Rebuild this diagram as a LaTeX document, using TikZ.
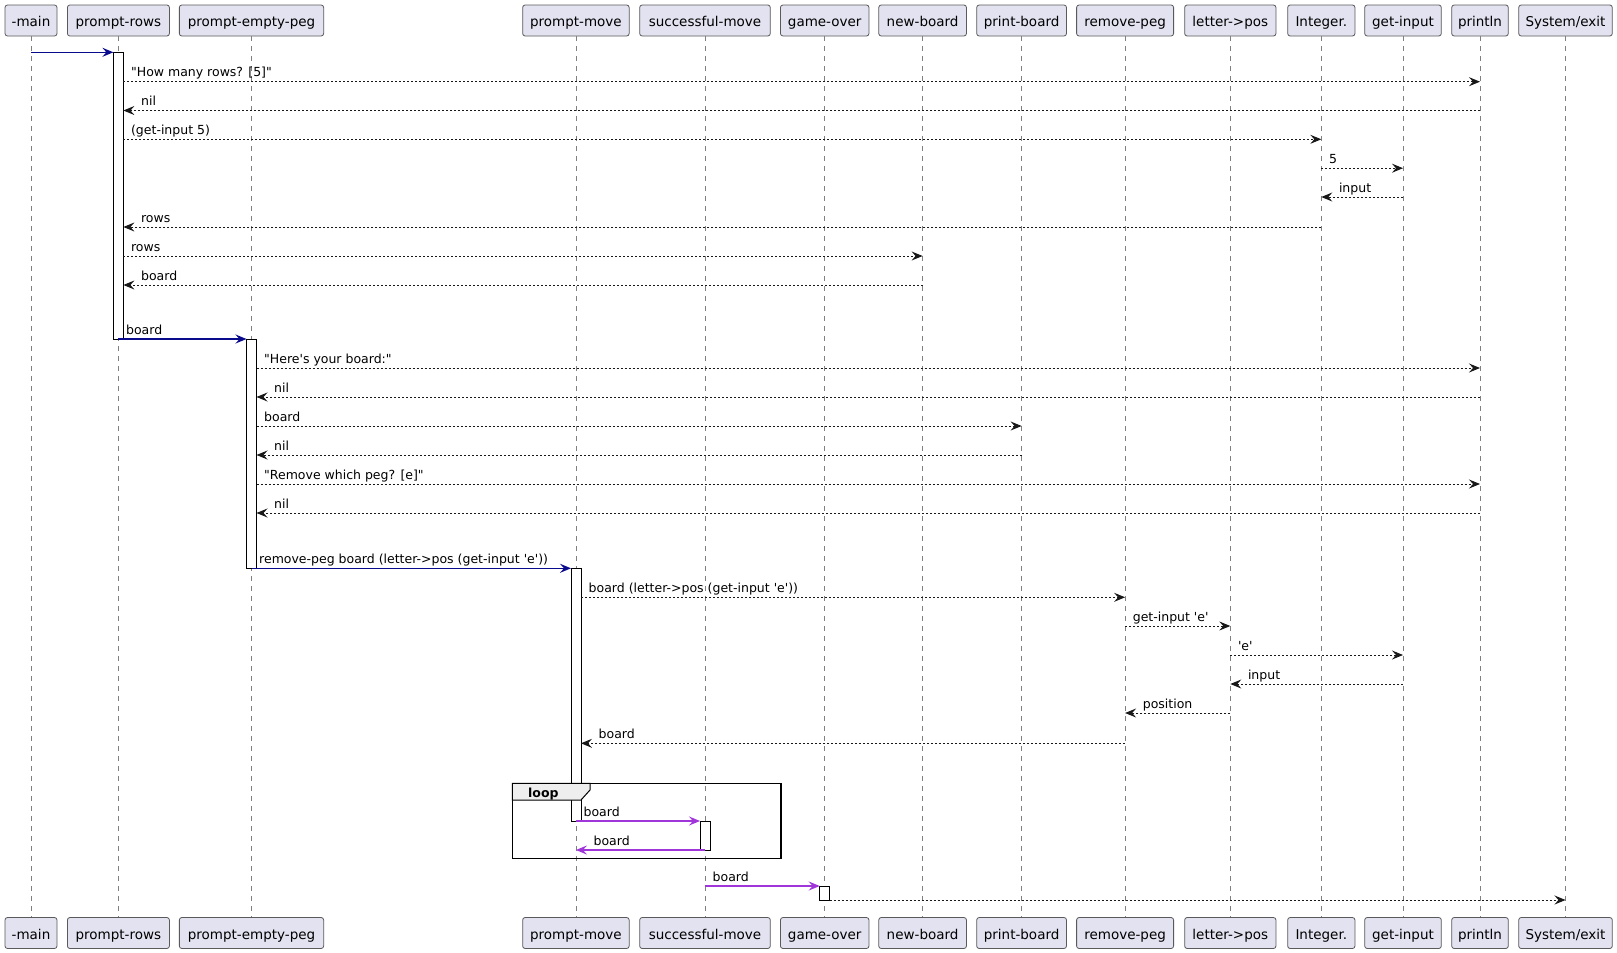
\documentclass[tikz,border=0pt]{standalone}
\usepackage{fontspec}
\newfontfamily\pfont{DejaVu Sans}
\usetikzlibrary{arrows.meta}
\definecolor{pfill}{HTML}{E2E2F0}
\definecolor{pline}{HTML}{5A5A5A}
\definecolor{dark}{HTML}{181818}
\definecolor{navyc}{HTML}{0A0A8C}
\definecolor{purp}{HTML}{A035DA}
\definecolor{tabfill}{HTML}{EEEEEE}
\tikzset{
 part/.style={draw=pline, fill=pfill, line width=0.8pt, rounded corners=2.5pt, inner sep=0pt,
   minimum height=31pt, text height=12pt, text depth=0pt, font=\pfont\fontsize{13.5}{16}\selectfont, text=black},
 life/.style={draw=gray, line width=0.7pt, dash pattern=on 5pt off 5pt},
 actbar/.style={draw=black, fill=white, line width=1pt},
 tipped/.style={-{Stealth[length=11pt,width=9pt,inset=4pt]}},
 dotmsg/.style={tipped, draw=dark, line width=1pt, dash pattern=on 2pt off 2pt},
 navymsg/.style={tipped, draw=navyc, line width=1.5pt},
 purpmsg/.style={tipped, draw=purp, line width=1.5pt},
 lbl/.style={anchor=base west, inner sep=0pt, font=\pfont\fontsize{12.5}{15}\selectfont, text=black},
 framebox/.style={draw=black, line width=1.5pt},
 looptab/.style={draw=black, line width=1pt, fill=tabfill},
}
% participant: name, center x, width, text
\newcommand\participant[4]{%
  \node[part, minimum width=#3pt] (#1T) at (#2,20.5) {#4};
  \node[part, minimum width=#3pt] (#1B) at (#2,933) {#4};
  \draw[life] (#1T.south) -- (#1B.north);
}
% message to the right: style, name, x1, x2, y, label
\newcommand\msgR[6]{%
  \coordinate (#2s) at (#3,#5);
  \coordinate (#2e) at (#4,#5);
  \draw[#1] (#2s) -- (#2e);
  \path (#2s) ++(7.5,-5) node[lbl] (#2l) {#6};
}
% message to the left (tip at x2 < x1)
\newcommand\msgL[6]{%
  \coordinate (#2s) at (#3,#5);
  \coordinate (#2e) at (#4,#5);
  \draw[#1] (#2s) -- (#2e);
  \path (#2e) ++(17.5,-5) node[lbl] (#2l) {#6};
}
\begin{document}
\begin{tikzpicture}[x=1pt,y=-1pt]
\useasboundingbox (0,0) rectangle (1617,953);
\fill[white] (0,0) rectangle (1617,953);

\participant{main}{31}{52}{-main}
\participant{rows}{118.4}{102}{prompt-rows}
\participant{empty}{251.5}{144.3}{prompt-empty-peg}
\participant{move}{575.9}{106.5}{prompt-move}
\participant{succ}{705}{130.6}{successful-move}
\participant{over}{824.7}{88.5}{game-over}
\participant{newb}{922.6}{87.7}{new-board}
\participant{printb}{1021.6}{89.8}{print-board}
\participant{remp}{1125.1}{97}{remove-peg}
\participant{ltp}{1230.3}{91.3}{letter->pos}
\participant{integ}{1321.3}{67.3}{Integer.}
\participant{getin}{1403}{76.6}{get-input}
\participant{prln}{1480}{56.6}{println}
\participant{sysx}{1565.5}{93.6}{System/exit}

% activation bars
\draw[actbar] (113.4,52.3) rectangle (123.4,339);
\draw[actbar] (246.5,339) rectangle (256.5,568.3);
\draw[actbar] (571,568.3) rectangle (581,821);
\draw[actbar] (700,821) rectangle (710,850);
\draw[actbar] (819.7,886) rectangle (829.7,900);

% loop frame
\draw[framebox] (512.3,783.3) rectangle (781,858.3);
\draw[looptab] (512.3,783.3) -- (590,783.3) -- (590,790) -- (581,800) -- (512.3,800) -- cycle;
\node[lbl, font=\pfont\bfseries\fontsize{12.5}{15}\selectfont] (looplbl) at (528,797) {loop};

% messages
\coordinate (m1s) at (31,52.3);
\coordinate (m1e) at (113.4,52.3);
\draw[navymsg] (m1s) -- (m1e);
\msgR{dotmsg}{m2}{123.4}{1480}{81.7}{"How many rows? [5]"}
\msgL{dotmsg}{m3}{1480}{123.4}{110.5}{nil}
\msgR{dotmsg}{m4}{123.4}{1321.3}{139.3}{(get-input 5)}
\msgR{dotmsg}{m5}{1321.3}{1403}{168.2}{5}
\msgL{dotmsg}{m6}{1403}{1321.3}{197}{input}
\msgL{dotmsg}{m7}{1321.3}{123.4}{227}{rows}
\msgR{dotmsg}{m8}{123.4}{922.6}{256}{rows}
\msgL{dotmsg}{m9}{922.6}{123.4}{285}{board}
\msgR{navymsg}{m10}{118.4}{246.5}{339}{board}
\msgR{dotmsg}{m11}{256.5}{1480}{368}{"Here's your board:"}
\msgL{dotmsg}{m12}{1480}{256.5}{397}{nil}
\msgR{dotmsg}{m13}{256.5}{1021.6}{426}{board}
\msgL{dotmsg}{m14}{1021.6}{256.5}{455}{nil}
\msgR{dotmsg}{m15}{256.5}{1480}{484}{"Remove which peg? [e]"}
\msgL{dotmsg}{m16}{1480}{256.5}{513}{nil}
\msgR{navymsg}{m17}{251.5}{571}{568.3}{remove-peg board (letter->pos (get-input 'e'))}
\msgR{dotmsg}{m18}{581}{1125.1}{597.3}{board (letter->pos (get-input 'e'))}
\msgR{dotmsg}{m19}{1125.1}{1230.3}{626}{get-input 'e'}
\msgR{dotmsg}{m20}{1230.3}{1403}{655}{'e'}
\msgL{dotmsg}{m21}{1403}{1230.3}{684}{input}
\msgL{dotmsg}{m22}{1230.3}{1125.1}{713}{position}
\msgL{dotmsg}{m23}{1125.1}{581}{743.3}{board}
\msgR{purpmsg}{m24}{575.9}{700}{821}{board}
\msgL{purpmsg}{m25}{705}{575.9}{850}{board}
\msgR{purpmsg}{m26}{705}{819.7}{886}{board}
\coordinate (m27s) at (829.7,900);
\coordinate (m27e) at (1565.5,900);
\draw[dotmsg] (m27s) -- (m27e);
\end{tikzpicture}
\end{document}
